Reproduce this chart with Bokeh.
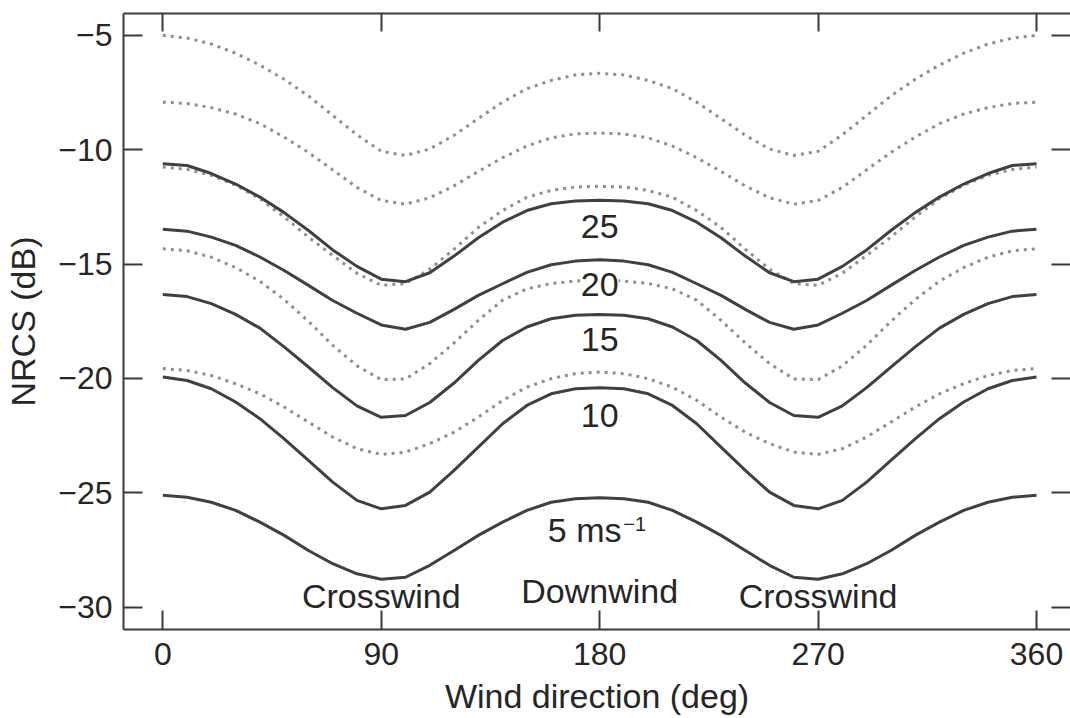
from bokeh.plotting import figure
from bokeh.models import Range1d, LinearAxis, FixedTicker, Label, CustomJSTickFormatter
from bokeh.embed import file_html
from bokeh.resources import INLINE

# ---- data ----
angles = list(range(0, 361, 10))

dotted_1 = [-5.00, -5.12, -5.38, -5.78, -6.30, -6.92, -7.65, -8.50, -9.35, -10.07, -10.25, -9.97, -9.37, -8.64, -7.92, -7.33, -6.97, -6.73, -6.66,
            -6.73, -6.97, -7.33, -7.92, -8.64, -9.37, -9.97, -10.25, -10.07, -9.35, -8.50, -7.65, -6.92, -6.30, -5.78, -5.38, -5.12, -5.00]
dotted_2 = [-7.92, -7.98, -8.16, -8.44, -8.86, -9.45, -10.12, -10.88, -11.65, -12.22, -12.38, -12.10, -11.58, -10.95, -10.35, -9.84, -9.48, -9.31, -9.27,
            -9.31, -9.48, -9.84, -10.35, -10.95, -11.58, -12.10, -12.38, -12.22, -11.65, -10.88, -10.12, -9.45, -8.86, -8.44, -8.16, -7.98, -7.92]
dotted_3 = [-10.76, -10.86, -11.12, -11.55, -12.14, -12.94, -13.82, -14.62, -15.40, -15.93, -15.85, -15.22, -14.35, -13.40, -12.66, -12.08, -11.78, -11.63, -11.60,
            -11.63, -11.78, -12.08, -12.66, -13.40, -14.35, -15.22, -15.85, -15.93, -15.40, -14.62, -13.82, -12.94, -12.14, -11.55, -11.12, -10.86, -10.76]
dotted_4 = [-14.33, -14.42, -14.70, -15.15, -15.75, -16.55, -17.50, -18.55, -19.45, -20.05, -20.02, -19.35, -18.45, -17.46, -16.58, -16.08, -15.85, -15.74, -15.70,
            -15.74, -15.85, -16.08, -16.58, -17.46, -18.45, -19.35, -20.02, -20.05, -19.45, -18.55, -17.50, -16.55, -15.75, -15.15, -14.70, -14.42, -14.33]
dotted_5 = [-19.57, -19.65, -19.87, -20.23, -20.67, -21.25, -21.91, -22.56, -23.07, -23.32, -23.22, -22.85, -22.35, -21.69, -20.96, -20.38, -20.01, -19.79, -19.72,
            -19.79, -20.01, -20.38, -20.96, -21.69, -22.35, -22.85, -23.22, -23.32, -23.07, -22.56, -21.91, -21.25, -20.67, -20.23, -19.87, -19.65, -19.57]

solid_25 = [-10.61, -10.69, -11.04, -11.50, -12.07, -12.75, -13.53, -14.38, -15.10, -15.66, -15.77, -15.38, -14.65, -13.85, -13.17, -12.66, -12.36, -12.24, -12.21,
            -12.24, -12.36, -12.66, -13.17, -13.85, -14.65, -15.38, -15.77, -15.66, -15.10, -14.38, -13.53, -12.75, -12.07, -11.50, -11.04, -10.69, -10.61]
solid_20 = [-13.48, -13.56, -13.82, -14.18, -14.69, -15.28, -15.93, -16.59, -17.15, -17.66, -17.85, -17.55, -16.98, -16.37, -15.86, -15.36, -15.03, -14.87, -14.81,
            -14.87, -15.03, -15.36, -15.86, -16.37, -16.98, -17.55, -17.85, -17.66, -17.15, -16.59, -15.93, -15.28, -14.69, -14.18, -13.82, -13.56, -13.48]
solid_15 = [-16.33, -16.42, -16.73, -17.20, -17.80, -18.62, -19.50, -20.40, -21.20, -21.70, -21.62, -21.05, -20.20, -19.21, -18.34, -17.75, -17.39, -17.24, -17.20,
            -17.24, -17.39, -17.75, -18.34, -19.21, -20.20, -21.05, -21.62, -21.70, -21.20, -20.40, -19.50, -18.62, -17.80, -17.20, -16.73, -16.42, -16.33]
solid_10 = [-19.94, -20.09, -20.45, -21.03, -21.76, -22.64, -23.58, -24.53, -25.33, -25.70, -25.55, -24.97, -24.02, -23.00, -21.98, -21.18, -20.67, -20.45, -20.41,
            -20.45, -20.67, -21.18, -21.98, -23.00, -24.02, -24.97, -25.55, -25.70, -25.33, -24.53, -23.58, -22.64, -21.76, -21.03, -20.45, -20.09, -19.94]
solid_5 = [-25.11, -25.19, -25.41, -25.77, -26.28, -26.86, -27.52, -28.10, -28.54, -28.78, -28.69, -28.17, -27.52, -26.86, -26.28, -25.77, -25.41, -25.26, -25.21,
           -25.26, -25.41, -25.77, -26.28, -26.86, -27.52, -28.17, -28.69, -28.78, -28.54, -28.10, -27.52, -26.86, -26.28, -25.77, -25.41, -25.19, -25.11]

dotted_series = [dotted_1, dotted_2, dotted_3, dotted_4, dotted_5]
solid_series = [solid_25, solid_20, solid_15, solid_10, solid_5]

x_ticks = [0, 90, 180, 270, 360]
y_ticks = [-30, -25, -20, -15, -10, -5]

x_title = "Wind direction (deg)"
y_title = "NRCS (dB)"
speed_labels = ["25", "20", "15", "10"]
speed_label_y = [-13.35, -15.90, -18.29, -21.64]
unit_label = "5 ms"
unit_label_y = -26.64
unit_sup = "\u22121"
dir_labels = ["Crosswind", "Downwind", "Crosswind"]
dir_label_x = [90, 180, 270]
dir_label_y = [-29.49, -29.31, -29.49]

# ---- styling ----
FONT = "Liberation Sans"
TXT = "#262626"
AX = "#3a3a3a"

p = figure(width=1070, height=718,
           x_range=Range1d(-16.2, 374.0), y_range=Range1d(-30.975, -4.045),
           output_backend="svg", toolbar_location=None,
           min_border_left=123, min_border_right=0, min_border_top=13, min_border_bottom=89)
p.grid.visible = False
p.background_fill_color = "white"
p.border_fill_color = "white"
p.outline_line_color = None

minus_fmt = CustomJSTickFormatter(code="return String(tick).replace('-', '\\u2212');")

for ax in p.xaxis:
    ax.ticker = FixedTicker(ticks=x_ticks)
for ax in p.yaxis:
    ax.ticker = FixedTicker(ticks=y_ticks)
    ax.formatter = minus_fmt

for ax in list(p.xaxis) + list(p.yaxis):
    ax.major_tick_in = 19
    ax.major_tick_out = 0
    ax.minor_tick_line_color = None
    ax.major_tick_line_color = AX
    ax.major_tick_line_width = 2
    ax.axis_line_color = AX
    ax.axis_line_width = 2
    ax.major_label_text_font = FONT
    ax.major_label_text_font_size = "32px"
    ax.major_label_text_color = TXT
    ax.axis_label_text_font = FONT
    ax.axis_label_text_font_size = "34px"
    ax.axis_label_text_font_style = "normal"
    ax.axis_label_text_color = TXT

p.xaxis.axis_label = x_title
p.xaxis.major_label_standoff = 13
p.xaxis.axis_label_standoff = 9
p.yaxis.axis_label = y_title
p.yaxis.major_label_standoff = 11
p.yaxis.axis_label_standoff = 13

top_ax = LinearAxis(ticker=FixedTicker(ticks=x_ticks), major_label_text_color=None,
                    major_label_text_font_size="1px", major_label_standoff=0,
                    axis_line_color=AX, axis_line_width=2, major_tick_in=18, major_tick_out=0,
                    major_tick_line_color=AX, major_tick_line_width=2, minor_tick_line_color=None)
p.add_layout(top_ax, "above")
right_ax = LinearAxis(ticker=FixedTicker(ticks=y_ticks), major_label_text_color=None,
                      major_label_text_font_size="1px", major_label_standoff=0,
                      axis_line_color=None, major_tick_in=19, major_tick_out=0,
                      major_tick_line_color=AX, major_tick_line_width=2, minor_tick_line_color=None)
p.add_layout(right_ax, "right")

for ys in dotted_series:
    p.line(angles, ys, line_color="#8f8f8f", line_width=3, line_dash="3 5", line_join="round")
for ys in solid_series:
    p.line(angles, ys, line_color="#404040", line_width=3, line_join="round")

for t, yv in zip(speed_labels, speed_label_y):
    p.add_layout(Label(x=180, y=yv, text=t, text_align="center", text_baseline="middle",
                       text_font=FONT, text_font_size="34px", text_color=TXT,
                       background_fill_color="white", background_fill_alpha=1.0))
p.add_layout(Label(x=180, y=unit_label_y, x_offset=-15, text=unit_label, text_align="center",
                   text_baseline="middle", text_font=FONT, text_font_size="34px", text_color=TXT,
                   background_fill_color="white", background_fill_alpha=1.0))
p.add_layout(Label(x=180, y=unit_label_y, x_offset=35, y_offset=6, text=unit_sup, text_align="center",
                   text_baseline="middle", text_font=FONT, text_font_size="20px", text_color=TXT))
for t, xv, yv in zip(dir_labels, dir_label_x, dir_label_y):
    p.add_layout(Label(x=xv, y=yv, text=t, text_align="center", text_baseline="middle",
                       text_font=FONT, text_font_size="34px", text_color=TXT))

open("out.html", "w").write(file_html(p, INLINE))
